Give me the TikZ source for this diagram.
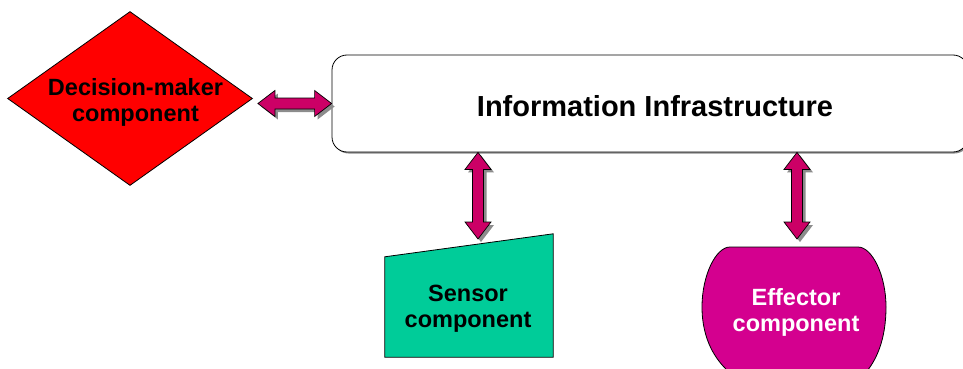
\documentclass[tikz,border=0pt]{standalone}
\usepackage{fontspec}
\setmainfont{Liberation Sans}
\usetikzlibrary{shapes.geometric,shadows,calc}

\definecolor{arrowfill}{HTML}{CC0066}
\definecolor{dmred}{HTML}{FF0000}
\definecolor{sensorgreen}{HTML}{00CC99}
\definecolor{effmagenta}{HTML}{D4008F}
\definecolor{shadowgray}{HTML}{8C8C8C}

\tikzset{
  lbl/.style={font=\bfseries\fontsize{23.5}{26}\selectfont, align=center, inner sep=0pt},
  outline/.style={draw=black, line width=0.8pt},
  fatarrow/.style={outline, line width=0.7pt, fill=arrowfill,
    drop shadow={shadow xshift=3pt, shadow yshift=-3pt, fill=shadowgray, opacity=1}},
  infobox/.style={outline, fill=white, rounded corners=15pt, inner sep=0pt,
    minimum width=636pt, minimum height=97pt,
    drop shadow={shadow xshift=1.5pt, shadow yshift=-1.5pt, fill=shadowgray, opacity=1}},
}

% fat double-headed arrow between two points
\newcommand\linkarrow[2]{%
  \coordinate (h1) at ($(#1)!17pt!(#2)$);
  \coordinate (h2) at ($(#2)!17pt!(#1)$);
  \path[fatarrow] (#1)
    -- ($(h1)!13pt!90:(#2)$) -- ($(h1)!5.5pt!90:(#2)$)
    -- ($(h2)!5.5pt!-90:(#1)$) -- ($(h2)!13pt!-90:(#1)$)
    -- (#2)
    -- ($(h2)!13pt!90:(#1)$) -- ($(h2)!5.5pt!90:(#1)$)
    -- ($(h1)!5.5pt!-90:(#2)$) -- ($(h1)!13pt!-90:(#2)$)
    -- cycle;}

\begin{document}
\begin{tikzpicture}[x=1pt,y=-1pt]
  \useasboundingbox (0,0) rectangle (963,369);
  \clip (0,0) rectangle (963,369);

  % information infrastructure
  \node[infobox] (info) at (650,103.5) {};
  \node[font=\bfseries\fontsize{29}{32}\selectfont, inner sep=0pt] (infolabel) at (655,106) {Information Infrastructure};

  % decision-maker
  \node[diamond, outline, fill=dmred, minimum width=245pt, minimum height=174pt, inner sep=0pt] (dm) at (130,98.5) {};
  \node[lbl] (dmlabel) at (135.5,102) {Decision-maker\\component};

  % sensor
  \node[minimum width=168pt, minimum height=123pt, inner sep=0pt] (sensor) at (469,295.5) {};
  \draw[outline, fill=sensorgreen] (sensor.south west) -- (sensor.south east)
    -- (sensor.north east) -- ($(sensor.north west)+(0,23)$) -- cycle;
  \node[lbl] (sensorlabel) at (468,309) {Sensor\\component};

  % effector
  \node[minimum width=184pt, minimum height=124pt, inner sep=0pt] (eff) at (794,309) {};
  \draw[outline, fill=effmagenta] (730,247) -- (858,247)
    .. controls (872,247) and (886,275) .. (886,307)
    .. controls (886,340) and (876,360) .. (867,371) -- (728,371)
    .. controls (716,360) and (702,340) .. (702,307)
    .. controls (702,275) and (716,247) .. (730,247) -- cycle;
  \node[lbl, text=white] (efflabel) at (796,312) {Effector\\component};

  % connectors
  \coordinate (dmtip) at ($(info.west -| dm.east)+(5,0)$);
  \coordinate (sensortop) at (478,239);
  \coordinate (efftop) at (797,239);
  \linkarrow{dmtip}{info.west}
  \linkarrow{info.south -| sensortop}{sensortop}
  \linkarrow{info.south -| efftop}{efftop}
\end{tikzpicture}
\end{document}
